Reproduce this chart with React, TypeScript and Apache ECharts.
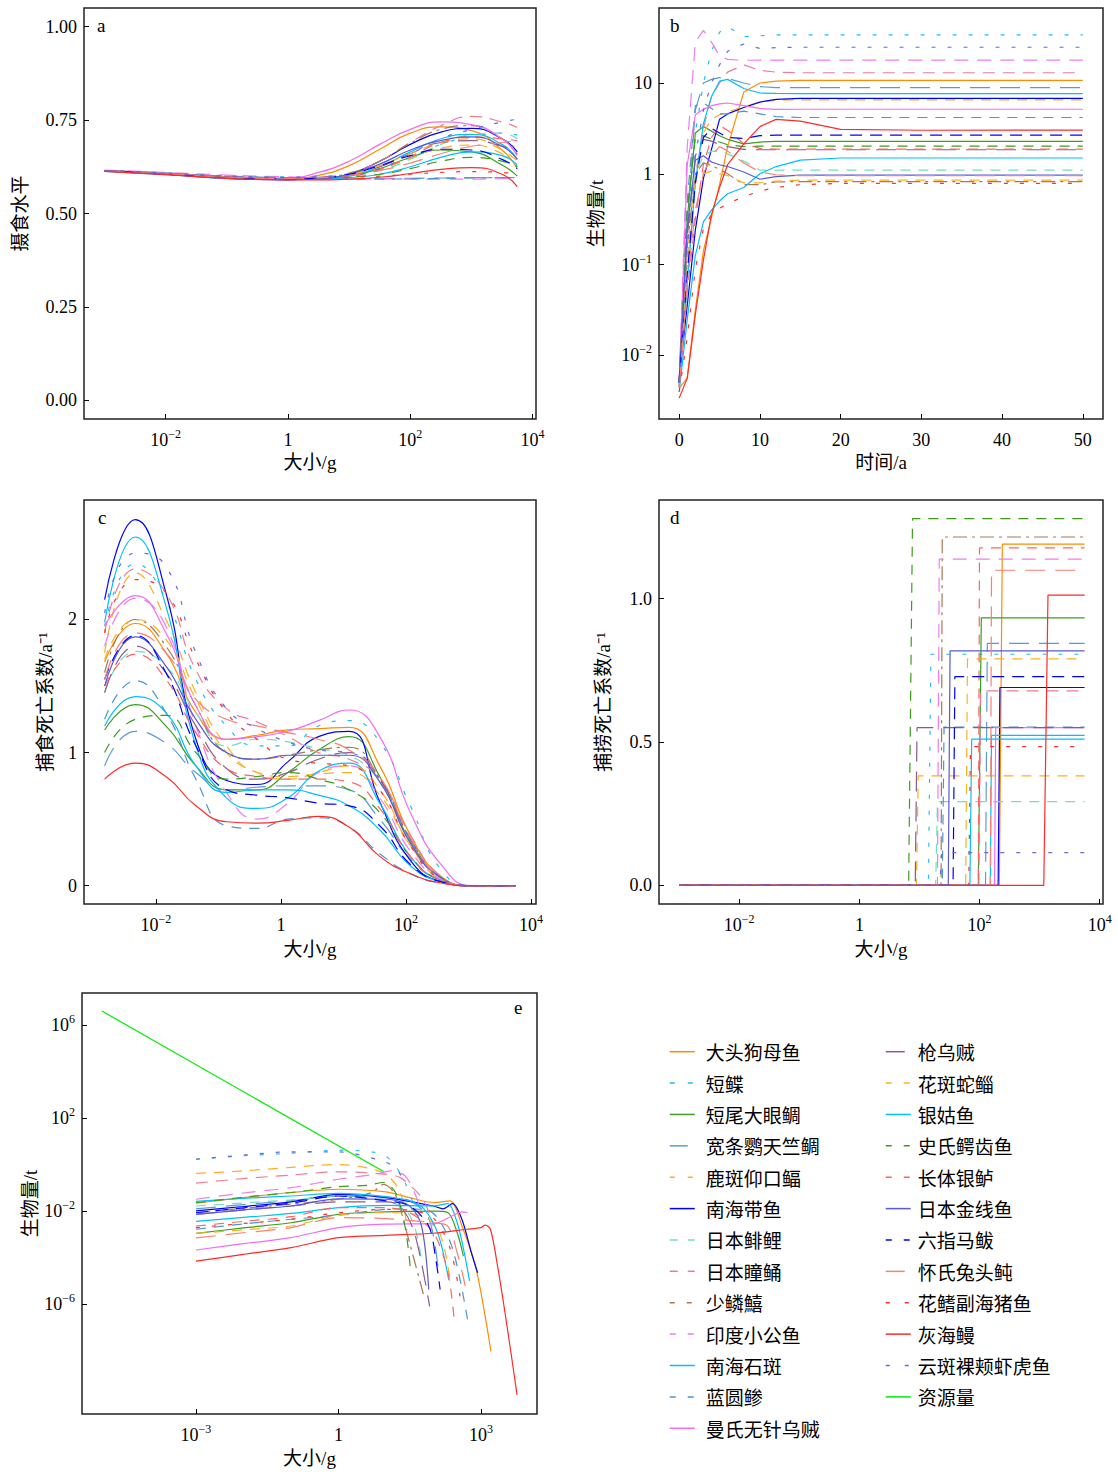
import React, { useEffect, useRef } from "react";
import * as echarts from "echarts";

const speciesNames = ["大头狗母鱼","短鲽","短尾大眼鲷","宽条鹦天竺鲷","鹿斑仰口鲾","南海带鱼","日本鲱鲤","日本瞳鲬","少鳞鱚","印度小公鱼","南海石斑","蓝圆鲹","曼氏无针乌贼","枪乌贼","花斑蛇鲻","银姑鱼","史氏鳄齿鱼","长体银鲈","日本金线鱼","六指马鲅","怀氏兔头鲀","花鳍副海猪鱼","灰海鳗","云斑裸颊虾虎鱼"];
const resourceName = "资源量";
const speciesColors = ["#FF8C00","#1EBFF5","#3C9E1E","#5B9BD5","#FFAE22","#0000FF","#6EE0C0","#F07C94","#A87A52","#F07CF0","#00BFFF","#4F94CD","#F46CF4","#8B5A8B","#FFB020","#00BFFF","#3A9E1A","#FF6464","#5A5AD6","#0000FF","#FA8072","#FF3030","#FF2A2A","#6A6AE0"];
const resourceColor = "#00EE00";
const plotDash: any[] = ["solid",[4,12],"solid",[20,10],[10,8],"solid",[10,8],[12,8],[14,5,3,5],[14,9],"solid",[10,8],"solid",[20,10],[10,8],"solid",[10,8],[10,8],"solid",[12,8],[20,10],[4,12],"solid",[4,12]];
const legendDash: any[] = ["solid",[5,13],"solid",[18,10],[5,13],"solid",[8,10],[8,10],[5,12],[6,12],"solid",[6,12],"solid",[19,10],[6,12],"solid",[6,12],[6,12],"solid",[6,12],[19,10],[4,15],"solid",[4,15]];

// panel a: feeding level vs log10 size (g)
const feedingSizes = [-3,-2,-1,0,0.5,1,1.5,2,2.5,3,3.5,3.75];
const feedingLevel = [
  [0.614,0.606,0.596,0.593,0.602,0.628,0.672,0.715,0.732,0.722,0.67,0.62],
  [0.615,0.609,0.601,0.598,0.600,0.604,0.620,0.650,0.685,0.705,0.715,0.71],
  [0.614,0.605,0.595,0.592,0.593,0.600,0.620,0.650,0.670,0.665,0.630,0.600],
  [0.615,0.608,0.600,0.596,0.594,0.593,0.593,0.594,0.595,0.596,0.596,0.596],
  [0.614,0.606,0.597,0.593,0.594,0.600,0.618,0.648,0.675,0.683,0.660,0.625],
  [0.614,0.605,0.594,0.590,0.593,0.605,0.640,0.685,0.718,0.728,0.70,0.665],
  [0.615,0.607,0.598,0.594,0.595,0.600,0.615,0.645,0.685,0.710,0.715,0.70],
  [0.615,0.608,0.600,0.596,0.598,0.607,0.640,0.690,0.735,0.760,0.745,0.73],
  [0.614,0.607,0.598,0.594,0.596,0.608,0.640,0.688,0.725,0.735,0.70,0.67],
  [0.616,0.610,0.603,0.598,0.596,0.594,0.593,0.592,0.592,0.592,0.593,0.593],
  [0.614,0.605,0.595,0.592,0.594,0.602,0.625,0.665,0.700,0.712,0.685,0.645],
  [0.615,0.608,0.600,0.596,0.594,0.592,0.592,0.593,0.594,0.595,0.596,0.596],
  [0.615,0.607,0.597,0.595,0.610,0.640,0.685,0.725,0.745,0.738,0.70,0.655],
  [0.615,0.607,0.598,0.595,0.597,0.603,0.625,0.660,0.690,0.695,0.68,0.66],
  [0.614,0.606,0.597,0.593,0.595,0.603,0.628,0.660,0.690,0.700,0.670,0.64],
  [0.613,0.604,0.594,0.591,0.592,0.596,0.605,0.625,0.650,0.665,0.655,0.630],
  [0.614,0.606,0.596,0.593,0.594,0.598,0.605,0.620,0.640,0.650,0.640,0.625],
  [0.614,0.606,0.597,0.593,0.594,0.600,0.618,0.652,0.690,0.705,0.700,0.695],
  [0.614,0.605,0.595,0.591,0.593,0.605,0.632,0.670,0.695,0.705,0.68,0.645],
  [0.614,0.605,0.595,0.592,0.595,0.605,0.628,0.655,0.672,0.67,0.645,0.62],
  [0.614,0.606,0.597,0.594,0.596,0.602,0.615,0.635,0.660,0.680,0.69,0.695],
  [0.615,0.607,0.599,0.596,0.596,0.597,0.600,0.605,0.610,0.612,0.61,0.605],
  [0.613,0.604,0.594,0.590,0.590,0.592,0.597,0.607,0.618,0.623,0.605,0.572],
  [0.615,0.608,0.600,0.597,0.598,0.602,0.62,0.66,0.70,0.725,0.745,0.752],
];

// panel b: log10 biomass (t) vs time (a)
const years = [0,1,2,3,4,5,6,8,10,12,15,20,30,50];
const logBiomassTime = [
  [-2.36,-2.25,-1.5,-0.85,-0.48,-0.12,0.3,0.9,1.0,1.02,1.03,1.03,1.028,1.028],
  [-2.3,-0.6,0.45,1.0,1.35,1.56,1.62,1.51,1.52,1.53,1.53,1.53,1.53,1.53],
  [-2.3,-0.5,0.45,0.52,0.47,0.42,0.38,0.33,0.35,0.357,0.357,0.357,0.357,0.357],
  [-2.3,-0.5,0.7,1.0,1.04,1.06,1.05,1.0,0.96,0.95,0.949,0.949,0.949,0.949],
  [-2.3,-1.0,0.0,0.45,0.6,0.65,0.68,0.74,0.79,0.81,0.814,0.814,0.814,0.814],
  [-2.25,-1.45,-0.62,-0.05,0.27,0.6,0.66,0.73,0.79,0.82,0.83,0.831,0.831,0.831],
  [-2.3,-0.9,0.0,0.2,0.25,0.25,0.22,0.14,0.04,0.04,0.04,0.04,0.04,0.04],
  [-2.35,-1.2,-0.1,0.5,0.85,1.0,1.12,1.2,1.14,1.12,1.113,1.113,1.113,1.113],
  [-2.3,-0.8,0.0,0.12,0.09,0.05,0.0,-0.12,-0.12,-0.09,-0.085,-0.085,-0.085,-0.085],
  [-2.3,0.3,1.45,1.58,1.45,1.3,1.26,1.25,1.252,1.252,1.252,1.252,1.252,1.252],
  [-2.35,-1.2,-0.1,0.55,0.85,1.02,1.04,0.94,0.89,0.885,0.883,0.883,0.883,0.883],
  [-2.3,-0.3,0.75,0.78,0.72,0.66,0.66,0.69,0.66,0.63,0.62,0.62,0.62,0.62],
  [-2.3,0.1,0.65,0.71,0.75,0.77,0.78,0.75,0.72,0.71,0.711,0.711,0.711,0.711],
  [-2.3,-0.7,0.2,0.38,0.36,0.32,0.3,0.27,0.265,0.265,0.265,0.265,0.265,0.265],
  [-2.35,-0.9,-0.1,0.0,0.03,0.0,-0.02,-0.1,-0.1,-0.08,-0.07,-0.07,-0.07,-0.07],
  [-2.4,-1.6,-0.9,-0.53,-0.4,-0.3,-0.22,-0.15,0.0,0.08,0.15,0.174,0.174,0.174],
  [-2.3,-0.4,0.4,0.42,0.38,0.35,0.32,0.3,0.305,0.306,0.306,0.306,0.306,0.306],
  [-2.35,-1.3,-0.5,0.1,0.4,0.53,0.48,0.33,0.28,0.273,0.273,0.273,0.273,0.273],
  [-2.3,-0.6,0.15,0.2,0.13,0.1,0.08,0.02,-0.06,-0.03,-0.015,-0.015,-0.015,-0.015],
  [-2.3,-1.1,-0.1,0.4,0.5,0.45,0.4,0.39,0.42,0.426,0.426,0.426,0.426,0.426],
  [-2.35,-1.2,-0.4,0.0,0.2,0.3,0.25,0.12,0.02,-0.01,-0.02,-0.02,-0.02,-0.02],
  [-2.4,-1.8,-1.05,-0.6,-0.45,-0.38,-0.33,-0.25,-0.19,-0.15,-0.12,-0.105,-0.105,-0.105],
  [-2.47,-2.25,-1.55,-0.95,-0.45,-0.15,0.1,0.33,0.52,0.6,0.58,0.49,0.48,0.481],
  [-2.3,-0.8,0.2,0.7,1.0,1.2,1.35,1.43,1.38,1.39,1.394,1.394,1.394,1.394],
];

// panel c: predation mortality (1/a) vs log10 size (g)
const predSizes = [-2.82,-2.33,-1.84,-1.36,-0.87,-0.38,0.11,0.6,1.09,1.58,2.07,2.56,3.05,3.75];
const predMort = [
  [1.68,1.97,1.75,1.3,1.1,1.13,1.17,1.18,1.19,0.9,0.38,0.07,0,0],
  [1.95,2.42,2.15,1.55,1.2,1.05,1.05,1.2,1.24,1.08,0.6,0.12,0,0],
  [1.17,1.36,1.2,0.9,0.72,0.72,0.85,1.02,1.12,0.82,0.33,0.06,0,0],
  [0.9,1.16,1.07,0.85,0.72,0.74,0.75,0.75,0.72,0.5,0.2,0.04,0,0],
  [1.75,2.35,2.0,1.45,1.05,0.85,0.82,0.84,0.85,0.68,0.3,0.06,0,0],
  [2.15,2.75,2.2,1.1,0.79,0.76,0.93,1.12,1.16,0.63,0.19,0.03,0,0],
  [1.45,1.76,1.65,1.3,1.05,1.1,1.08,1.03,0.98,0.78,0.34,0.06,0,0],
  [1.9,2.38,2.2,1.62,1.33,1.23,1.12,1.0,0.95,0.8,0.38,0.07,0,0],
  [1.6,2.0,1.8,1.35,1.0,0.95,0.98,1.02,1.04,0.8,0.35,0.06,0,0],
  [1.8,2.16,1.95,1.2,0.7,0.5,0.62,0.85,0.9,0.66,0.26,0.05,0,0],
  [1.98,2.62,2.1,1.05,0.66,0.58,0.66,0.86,0.92,0.62,0.22,0.04,0,0],
  [1.25,1.54,1.3,0.8,0.45,0.43,0.5,0.51,0.44,0.24,0.09,0.02,0,0],
  [1.95,2.18,1.9,1.35,1.1,1.12,1.16,1.24,1.32,1.12,0.55,0.16,0,0],
  [1.45,1.8,1.6,1.2,0.88,0.8,0.85,0.95,1.0,0.8,0.35,0.06,0,0],
  [1.7,2.0,1.85,1.4,1.0,0.85,0.8,0.85,0.9,0.72,0.3,0.05,0,0],
  [1.2,1.42,1.3,0.9,0.7,0.72,0.72,0.68,0.6,0.42,0.15,0.03,0,0],
  [1.0,1.25,1.28,1.0,0.8,0.82,0.85,0.8,0.72,0.55,0.22,0.04,0,0],
  [1.5,1.74,1.55,1.15,0.88,0.82,0.8,0.8,0.78,0.58,0.22,0.04,0,0],
  [1.5,1.87,1.65,1.25,1.0,0.95,0.98,0.98,0.98,0.78,0.32,0.06,0,0],
  [1.55,1.88,1.6,1.05,0.72,0.68,0.66,0.62,0.6,0.45,0.16,0.03,0,0],
  [1.55,1.9,1.75,1.4,1.25,1.2,1.15,1.1,1.02,0.82,0.36,0.06,0,0],
  [1.9,2.3,2.2,1.7,1.3,1.1,0.95,0.92,0.9,0.72,0.3,0.05,0,0],
  [0.8,0.92,0.82,0.6,0.48,0.47,0.49,0.52,0.44,0.22,0.09,0.02,0,0],
  [2.05,2.5,2.4,1.75,1.33,1.18,1.08,1.02,1.0,0.8,0.35,0.06,0,0],
];

// panel d: fishing mortality steps (log10 size where selectivity starts, level 1/a)
const fishSizeRange = [-3, 3.75];
const fishStepStart = [2.33,1.15,1.98,2.1,0.95,2.31,1.27,1.99,1.36,1.30,2.18,1.38,2.25,0.93,1.77,1.84,0.82,1.98,1.48,1.56,2.18,1.82,3.07,1.34];
const fishStepEnd = [2.38,1.19,2.03,2.13,0.98,2.34,1.3,2.02,1.38,1.33,2.2,1.41,2.27,0.96,1.8,1.87,0.885,2.0,1.51,1.59,2.2,1.85,3.14,1.37];
const fishLevel = [1.19,0.806,0.933,0.844,0.382,0.69,0.292,0.678,1.215,1.138,0.523,0.552,0.55,0.55,0.79,0.51,1.279,1.177,0.818,0.728,1.099,0.484,1.012,0.114];

// panel e: log10 biomass spectrum vs log10 size
const spectrumSizes = [
  [-3,-2,-1,0,1,1.5,2,2.35,2.6,2.9,3.21],
  [-3,-2,-1,0,0.7,1,1.2,1.4,1.6],
  [-3,-2,-1,0,1,2,2.3,2.5,2.63],
  [-3,-2,-1,0,1,1.5,1.9,2.1],
  [-3,-2,-1,0,0.5,1,1.3,1.45],
  [-3,-2,-1,0,1,2,2.2,2.4,2.6,2.8,2.93],
  [-3,-2,-1,0,1,1.4,1.6,1.75],
  [-3,-2,-1,0,1,1.3,1.7,1.85,2.0],
  [-3,-2,-1,0,0.7,0.95,1.2,1.4,1.79],
  [-3,-2,-1,0,0.8,1.1,1.4,1.6,1.7],
  [-3,-2,-1,0,1,2,2.3,2.5,2.65,2.76],
  [-3,-2,-1,0,1,1.5,2.0,2.4,2.73],
  [-3,-2,-1,0,1,2,2.4,2.6,2.72],
  [-3,-2,-1,0,1,1.3,1.6,1.92],
  [-3,-2,-1,0,1,1.5,2,2.2,2.35],
  [-3,-2,-1,0,1,1.5,1.8,2.1,2.32],
  [-3,-2,-1,0,0.6,0.95,1.2,1.4,1.51],
  [-3,-2,-1,0,1,1.5,2.0,2.3,2.44],
  [-3,-2,-1,0,1,1.5,1.75,1.9],
  [-3,-2,-1,0,1,1.5,1.9,2.05,2.14],
  [-3,-2,-1,0,1,1.5,2.0,2.3,2.5,2.67],
  [-3,-2,-1,0,1,1.5,2.0,2.35,2.56],
  [-3,-2,-1,0,1,2,2.7,3.0,3.09,3.2,3.35,3.55,3.76],
  [-3,-2,-1,0,0.8,1.2,1.35],
];
const spectrumLogB = [
  [-1.66,-1.42,-1.2,-1.06,-1.17,-1.42,-1.63,-1.56,-2.64,-4.5,-8.03],
  [0.23,0.38,0.49,0.62,0.55,0.35,-0.05,-0.77,-1.8],
  [-2.96,-2.72,-2.5,-2.14,-2.03,-2.0,-2.06,-2.93,-3.93],
  [-1.9,-1.72,-1.55,-1.35,-1.4,-1.55,-2.3,-4.5],
  [-0.38,-0.27,-0.12,0.0,-0.1,-0.42,-1.2,-2.8],
  [-1.99,-1.8,-1.6,-1.28,-1.42,-1.78,-1.9,-1.68,-2.36,-3.8,-4.65],
  [-1.78,-1.65,-1.52,-1.37,-1.56,-1.92,-2.64,-4.08],
  [-0.8,-0.6,-0.45,-0.31,-0.41,-0.56,-1.28,-1.78,-2.64],
  [-2.06,-1.88,-1.7,-1.49,-1.2,-0.85,-1.3,-2.64,-5.59],
  [-1.49,-1.22,-0.99,-0.63,-0.41,-0.27,-0.48,-1.2,-1.78],
  [-2.44,-2.27,-2.1,-1.85,-1.75,-1.78,-1.68,-2.5,-3.8,-5.0],
  [-2.78,-2.55,-2.35,-2.18,-1.92,-1.9,-2.1,-3.6,-6.8],
  [-3.67,-3.4,-3.14,-2.71,-2.56,-2.54,-2.2,-2.03,-2.06],
  [-2.14,-1.95,-1.78,-1.6,-1.6,-1.78,-2.93,-6.09],
  [-2.96,-2.8,-2.64,-2.18,-2.07,-2.1,-2.5,-3.36,-4.94],
  [-1.58,-1.45,-1.35,-1.24,-1.38,-1.56,-1.9,-3.0,-4.94],
  [-1.64,-1.4,-1.2,-0.95,-0.89,-0.77,-1.2,-2.64,-4.36],
  [-2.64,-2.44,-2.24,-1.85,-1.85,-2.07,-2.93,-4.6,-6.73],
  [-2.14,-1.95,-1.78,-1.47,-1.49,-1.78,-2.64,-5.37],
  [-2.07,-1.86,-1.66,-1.35,-1.56,-1.78,-2.64,-4.08,-5.37],
  [-3.15,-2.93,-2.71,-2.28,-2.32,-2.4,-2.5,-2.64,-3.79,-5.22],
  [-2.71,-2.53,-2.35,-2.07,-1.92,-1.96,-2.3,-3.6,-5.66],
  [-4.15,-3.86,-3.57,-3.14,-3.04,-2.95,-2.78,-2.71,-2.6,-2.78,-4.36,-6.95,-9.9],
  [0.23,0.41,0.55,0.55,0.23,-0.12,-0.63],
];
const resourceSizes = [-4.98, 0.95];
const resourceLogB = [6.6, -0.3];

// tick values
const logSizeTicks = [-2, 0, 2, 4];
const feedingTicks = [0, 0.25, 0.5, 0.75, 1];
const yearTicks = [0, 10, 20, 30, 40, 50];
const logBiomassTicks = [-2, -1, 0, 1];
const predTicks = [0, 1, 2];
const fishTicks = [0, 0.5, 1];
const spectrumSizeTicks = [-3, 0, 3];
const spectrumTicks = [-6, -2, 2, 6];

const SERIF = "'Liberation Serif', 'Times New Roman', serif";
const NAMEFONT = "'Liberation Serif', 'Noto Sans CJK SC', serif";
const CJK = "'Noto Sans CJK SC', 'Liberation Serif', sans-serif";

const supStr = (n: number) => (n < 0 ? "−" : "") + Math.abs(n);
const logLabel = (v: number) => {
  const r = Math.round(v);
  if (r === 0) return "1";
  if (r === 1) return "10";
  return "10{s|" + supStr(r) + "}";
};

const labelStyle = (margin: number, formatter: any, values: number[]) => ({
  show: true,
  customValues: values,
  margin,
  formatter,
  fontFamily: SERIF,
  fontSize: 18,
  color: "#000",
  lineHeight: 24,
  rich: {
    s: { fontFamily: SERIF, fontSize: 12, lineHeight: 12, padding: [0, 0, 12, 0], color: "#000" },
  },
});

const makeAxis = (
  gridIndex: number,
  min: number,
  max: number,
  values: number[],
  formatter: any,
  name: string,
  nameGap: number,
  margin: number
) => ({
  type: "value",
  gridIndex,
  min,
  max,
  name,
  nameLocation: "middle",
  nameGap,
  nameTextStyle: { fontFamily: NAMEFONT, fontSize: 19, color: "#000" },
  axisLine: { show: false, onZero: false },
  axisTick: { show: true, inside: true, length: 5, customValues: values, lineStyle: { color: "#000", width: 1 } },
  splitLine: { show: false },
  axisLabel: labelStyle(margin, formatter, values),
});

function buildOption() {
  const grids = [
    { left: 84, top: 8, width: 452, height: 411 },
    { left: 659, top: 8, width: 444, height: 411 },
    { left: 84, top: 500, width: 452, height: 404 },
    { left: 659, top: 500, width: 444, height: 404 },
    { left: 82, top: 993, width: 455, height: 421 },
  ].map((g) => ({ ...g, show: true, borderColor: "#222", borderWidth: 1.5, backgroundColor: "transparent", containLabel: false }));

  const xAxis = [
    makeAxis(0, -3.336, 4.056, logSizeTicks, logLabel, "大小/g", 34, 9),
    makeAxis(1, -2.5, 52.5, yearTicks, (v: number) => String(v), "时间/a", 34, 9),
    makeAxis(2, -3.15, 4.08, logSizeTicks, logLabel, "大小/g", 36, 9),
    makeAxis(3, -3.336, 4.056, logSizeTicks, logLabel, "大小/g", 36, 9),
    makeAxis(4, -5.4, 4.18, spectrumSizeTicks, logLabel, "大小/g", 35, 9),
  ];
  const yAxis = [
    makeAxis(0, -0.05, 1.05, feedingTicks, (v: number) => v.toFixed(2), "摄食水平", 54, 7),
    makeAxis(1, -2.7, 1.826, logBiomassTicks, logLabel, "生物量/t", 53, 7),
    makeAxis(2, -0.138, 2.898, predTicks, (v: number) => String(v), "捕食死亡系数/a⁻¹", 29, 7),
    makeAxis(3, -0.065, 1.344, fishTicks, (v: number) => v.toFixed(1), "捕捞死亡系数/a⁻¹", 46, 7),
    makeAxis(4, -10.72, 7.376, spectrumTicks, logLabel, "生物量/t", 42, 7),
  ];

  const series: any[] = [];
  speciesNames.forEach((name, i) => {
    const common = {
      name,
      type: "line",
      symbol: "none",
      showSymbol: false,
      silent: true,
      emphasis: { disabled: true },
      itemStyle: { color: speciesColors[i] },
      lineStyle: { color: speciesColors[i], width: 1.2, type: plotDash[i] },
    };
    series.push({ ...common, xAxisIndex: 0, yAxisIndex: 0, smooth: 0.5, data: feedingSizes.map((x, k) => [x, feedingLevel[i][k]]) });
    series.push({ ...common, xAxisIndex: 1, yAxisIndex: 1, data: years.map((t, k) => [t, logBiomassTime[i][k]]) });
    series.push({ ...common, xAxisIndex: 2, yAxisIndex: 2, smooth: 0.5, data: predSizes.map((x, k) => [x, predMort[i][k]]) });
    series.push({
      ...common,
      xAxisIndex: 3,
      yAxisIndex: 3,
      data: [
        [fishSizeRange[0], 0],
        [fishStepStart[i], 0],
        [fishStepEnd[i], fishLevel[i]],
        [fishSizeRange[1], fishLevel[i]],
      ],
    });
    series.push({ ...common, xAxisIndex: 4, yAxisIndex: 4, smooth: 0.3, data: spectrumSizes[i].map((x, k) => [x, spectrumLogB[i][k]]) });
  });
  series.push({
    name: resourceName,
    type: "line",
    symbol: "none",
    showSymbol: false,
    silent: true,
    xAxisIndex: 4,
    yAxisIndex: 4,
    itemStyle: { color: resourceColor },
    lineStyle: { color: resourceColor, width: 1.2, type: "solid" },
    data: resourceSizes.map((x, k) => [x, resourceLogB[k]]),
  });

  const legendItem = (i: number) => ({ name: speciesNames[i], lineStyle: { type: legendDash[i], width: 1.5 } });
  const legendBase = {
    orient: "vertical",
    top: 1041.7,
    itemWidth: 25,
    itemHeight: 20,
    itemGap: 11.38,
    padding: 0,
    selectedMode: false,
    itemStyle: { opacity: 0 },
    lineStyle: { width: 1.5 },
    textStyle: { fontFamily: CJK, fontSize: 19, color: "#000", lineHeight: 20 },
  };
  const leftIdx = Array.from({ length: 13 }, (_, k) => k);
  const rightIdx = Array.from({ length: 11 }, (_, k) => k + 13);

  const letter = (t: string, x: number, y: number) => ({
    type: "text",
    left: x,
    top: y,
    style: { text: t, fontFamily: SERIF, fontSize: 19, fill: "#000" },
    silent: true,
  });

  return {
    animation: false,
    backgroundColor: "#fff",
    grid: grids,
    xAxis,
    yAxis,
    series,
    legend: [
      { ...legendBase, left: 669, data: leftIdx.map(legendItem), textStyle: { ...legendBase.textStyle, padding: [0, 0, 0, 6] } },
      {
        ...legendBase,
        left: 885,
        data: [...rightIdx.map(legendItem), { name: resourceName, lineStyle: { type: "solid", width: 1.5 } }],
        textStyle: { ...legendBase.textStyle, padding: [0, 0, 0, 2] },
      },
    ],
    graphic: [
      letter("a", 97, 16),
      letter("b", 670, 16),
      letter("c", 98, 508),
      letter("d", 670, 508),
      letter("e", 514, 998),
    ],
  };
}

export default function App() {
  const ref = useRef<HTMLDivElement>(null);
  useEffect(() => {
    if (!ref.current) return;
    const chart = echarts.init(ref.current, undefined, { renderer: "svg" });
    chart.setOption(buildOption() as any);
    return () => chart.dispose();
  }, []);
  return <div ref={ref} style={{ position: "absolute", left: 0, top: 0, width: 1118, height: 1472, background: "#fff" }} />;
}
